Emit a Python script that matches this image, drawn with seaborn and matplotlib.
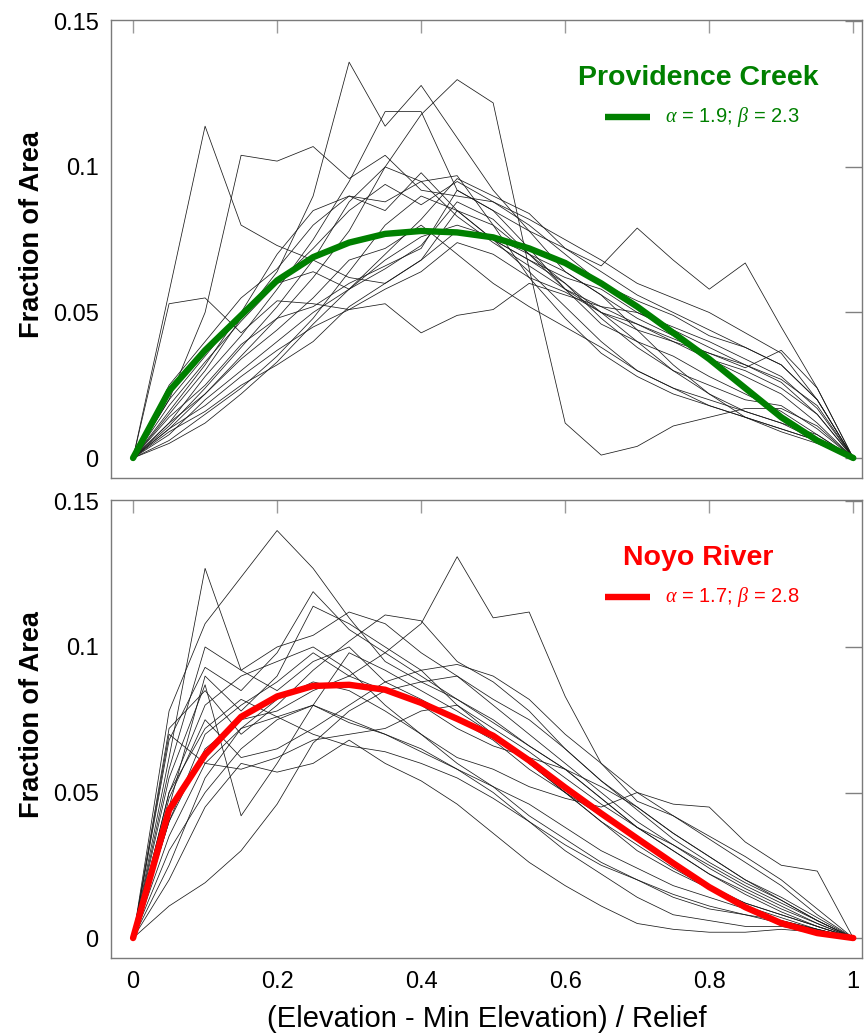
import numpy as np
import pandas as pd
import matplotlib
matplotlib.use("Agg")
import matplotlib.pyplot as plt
import seaborn as sns

# ---------------- data ----------------
x_grid = [0.00, 0.05, 0.10, 0.15, 0.20, 0.25, 0.30, 0.35, 0.40, 0.45, 0.50,
          0.55, 0.60, 0.65, 0.70, 0.75, 0.80, 0.85, 0.90, 0.95, 1.00]

providence_fit = [0, .023, .037, .049, .061, .069, .074, .077, .078, .0775, .0758,
                  .072, .067, .060, .052, .043, .034, .024, .014, .006, 0]
noyo_fit = [0, .044, .063, .076, .083, .0866, .087, .0853, .0808, .0753, .0695,
            .061, .0517, .0428, .0342, .0257, .0175, .0106, .0051, .0017, 0]

providence_basins = [
    [0, .057, .114, .080, .073, .068, .062, .060, .068, .085, .080, .070, .058, .052, .046, .040, .034, .030, .024, .015, 0],
    [0, .053, .055, .043, .054, .053, .051, .058, .064, .074, .070, .062, .057, .050, .046, .041, .036, .031, .037, .024, 0],
    [0, .020, .050, .104, .102, .107, .096, .104, .092, .090, .088, .080, .070, .060, .054, .049, .042, .038, .032, .020, 0],
    [0, .015, .030, .048, .064, .090, .136, .114, .128, .110, .092, .078, .064, .056, .048, .042, .034, .028, .022, .012, 0],
    [0, .010, .022, .035, .048, .062, .078, .100, .118, .130, .122, .065, .012, .001, .004, .011, .014, .017, .017, .011, 0],
    [0, .012, .028, .042, .058, .075, .095, .119, .119, .092, .085, .078, .072, .066, .079, .068, .058, .067, .045, .024, 0],
    [0, .025, .040, .055, .065, .080, .090, .085, .098, .085, .075, .068, .062, .058, .050, .044, .038, .032, .027, .018, 0],
    [0, .018, .033, .047, .060, .072, .085, .094, .087, .095, .088, .082, .075, .068, .060, .055, .050, .043, .036, .020, 0],
    [0, .008, .020, .030, .040, .050, .058, .070, .082, .096, .090, .084, .072, .064, .056, .050, .044, .038, .032, .020, 0],
    [0, .014, .025, .039, .048, .052, .060, .066, .072, .092, .085, .072, .058, .046, .040, .035, .028, .022, .016, .008, 0],
    [0, .010, .018, .028, .037, .045, .051, .053, .043, .049, .051, .060, .056, .052, .050, .045, .040, .034, .028, .017, 0],
    [0, .006, .015, .024, .035, .048, .064, .080, .090, .085, .075, .064, .052, .040, .030, .024, .018, .014, .010, .006, 0],
    [0, .012, .022, .034, .044, .055, .068, .072, .080, .070, .060, .052, .045, .038, .030, .024, .020, .016, .012, .008, 0],
    [0, .016, .032, .050, .060, .064, .058, .065, .073, .088, .082, .070, .060, .050, .040, .030, .022, .016, .012, .006, 0],
    [0, .009, .016, .025, .032, .040, .052, .060, .068, .078, .075, .068, .060, .048, .038, .030, .025, .020, .018, .010, 0],
    [0, .020, .035, .050, .070, .085, .090, .088, .095, .097, .080, .062, .048, .036, .028, .022, .018, .014, .010, .006, 0],
    [0, .011, .024, .038, .052, .068, .088, .100, .095, .083, .074, .066, .058, .050, .044, .040, .036, .032, .026, .015, 0],
    [0, .005, .012, .022, .033, .046, .058, .068, .076, .080, .076, .070, .064, .056, .044, .032, .022, .014, .009, .005, 0],
]

noyo_basins = [
    [0, .078, .108, .124, .140, .127, .110, .095, .088, .082, .075, .066, .058, .048, .038, .030, .022, .015, .009, .004, 0],
    [0, .062, .127, .092, .085, .095, .100, .088, .082, .075, .068, .058, .050, .040, .032, .024, .017, .011, .007, .003, 0],
    [0, .055, .087, .042, .060, .080, .098, .092, .085, .078, .070, .060, .050, .042, .034, .026, .018, .012, .008, .004, 0],
    [0, .040, .065, .075, .078, .085, .090, .098, .108, .131, .110, .112, .083, .060, .047, .042, .035, .028, .020, .010, 0],
    [0, .011, .019, .030, .046, .067, .078, .085, .088, .090, .082, .075, .065, .054, .045, .036, .028, .020, .013, .006, 0],
    [0, .050, .080, .090, .095, .100, .092, .080, .070, .062, .058, .052, .048, .045, .050, .046, .045, .033, .025, .023, 0],
    [0, .068, .093, .085, .098, .119, .106, .098, .090, .082, .074, .066, .058, .048, .038, .030, .022, .016, .010, .005, 0],
    [0, .045, .090, .078, .090, .114, .108, .100, .092, .080, .070, .060, .050, .040, .030, .023, .017, .012, .008, .004, 0],
    [0, .072, .085, .070, .080, .092, .102, .111, .109, .095, .088, .078, .065, .054, .044, .034, .026, .019, .013, .006, 0],
    [0, .070, .060, .072, .076, .080, .075, .070, .064, .058, .052, .046, .038, .030, .024, .018, .014, .010, .006, .003, 0],
    [0, .048, .075, .062, .065, .072, .080, .088, .092, .094, .090, .082, .070, .060, .050, .042, .034, .026, .018, .008, 0],
    [0, .030, .050, .065, .075, .080, .074, .070, .065, .058, .050, .040, .030, .022, .014, .008, .006, .004, .004, .002, 0],
    [0, .025, .055, .072, .082, .088, .085, .078, .070, .060, .052, .042, .034, .026, .020, .014, .010, .008, .006, .003, 0],
    [0, .035, .060, .058, .062, .068, .070, .072, .078, .080, .072, .064, .055, .046, .038, .032, .025, .018, .012, .006, 0],
    [0, .020, .045, .060, .057, .060, .068, .060, .054, .046, .036, .026, .018, .011, .005, .003, .002, .002, .003, .002, 0],
    [0, .040, .070, .080, .088, .098, .090, .085, .080, .072, .066, .062, .058, .052, .045, .036, .028, .020, .014, .007, 0],
    [0, .058, .100, .092, .100, .104, .112, .108, .098, .090, .080, .070, .060, .050, .040, .032, .024, .017, .011, .005, 0],
    [0, .050, .072, .082, .076, .070, .066, .064, .060, .055, .048, .040, .032, .025, .020, .015, .011, .008, .005, .003, 0],
]

panel_names = ["Providence Creek", "Noyo River"]
fit_labels = [r"$\alpha$ = 1.9; $\beta$ = 2.3", r"$\alpha$ = 1.7; $\beta$ = 2.8"]
panel_colors = ["#008000", "#FF0000"]
x_ticks = [0, 0.2, 0.4, 0.6, 0.8, 1]
x_ticklabels = ["0", "0.2", "0.4", "0.6", "0.8", "1"]
y_ticks = [0, 0.05, 0.1, 0.15]
y_ticklabels = ["0", "0.05", "0.1", "0.15"]

# ---------------- style ----------------
sns.set_theme(style="white")
plt.rcParams["font.family"] = ["Liberation Sans", "DejaVu Sans"]
plt.rcParams["text.color"] = "black"
plt.rcParams["axes.labelcolor"] = "black"
plt.rcParams["xtick.color"] = "black"
plt.rcParams["ytick.color"] = "black"
plt.rcParams["mathtext.fontset"] = "custom"
plt.rcParams["mathtext.rm"] = "Liberation Sans"
plt.rcParams["mathtext.it"] = "Liberation Serif:italic"


def long_df(basins):
    rows = []
    for i, ys in enumerate(basins):
        for xv, yv in zip(x_grid, ys):
            rows.append((i, xv, yv))
    return pd.DataFrame(rows, columns=["basin", "x", "y"])


fig = plt.figure(figsize=(8.64, 10.33), dpi=100)
ax_top = fig.add_axes([0.1285, 0.5373, 0.8695, 0.4434])
ax_bot = fig.add_axes([0.1285, 0.0726, 0.8695, 0.4434])

for ax, basins, fit, name, lab, col in zip(
        [ax_top, ax_bot], [providence_basins, noyo_basins],
        [providence_fit, noyo_fit], panel_names, fit_labels, panel_colors):
    df = long_df(basins)
    sns.lineplot(data=df, x="x", y="y", units="basin", estimator=None,
                 color="#1a1a1a", lw=0.55, ax=ax, legend=False)
    fdf = pd.DataFrame({"x": x_grid, "y": fit})
    sns.lineplot(data=fdf, x="x", y="y", color=col, lw=4.6, ax=ax,
                 legend=False, solid_capstyle="round")

    ax.set_xlim(-0.0306, 1.0125)
    ax.set_ylim(-0.00686, 0.1505)
    ax.set_xticks(x_ticks)
    ax.set_yticks(y_ticks)
    ax.set_yticklabels(y_ticklabels, fontsize=17, color="black")
    ax.set_ylabel("Fraction of Area", fontsize=19.5, fontweight="bold",
                  color="black")
    ax.yaxis.set_label_coords(-0.088, 0.532)
    ax.set_xlabel("")
    ax.tick_params(axis="both", direction="in", top=True, right=True,
                   length=9, width=1, color="#9a9a9a", labelsize=17, pad=9,
                   labelcolor="black")
    ax.tick_params(axis="y", length=12, color="#808080")
    for sp in ax.spines.values():
        sp.set_color("#7a7a7a")
        sp.set_linewidth(1.0)

    # legend block
    ax.text(0.782, 0.873, name, transform=ax.transAxes, ha="center", va="center",
            fontsize=20.5, fontweight="bold", color=col)
    ax.plot([0.658, 0.718], [0.789, 0.789], transform=ax.transAxes,
            color=col, lw=4.6, solid_capstyle="butt")
    ax.text(0.737, 0.789, lab, transform=ax.transAxes, ha="left", va="center",
            fontsize=14.5, color=col)

ax_top.set_xticklabels([])
ax_bot.set_xticklabels(x_ticklabels, fontsize=17, color="black")
ax_bot.set_xlabel("(Elevation - Min Elevation) / Relief", fontsize=21,
                  labelpad=9, color="black")

fig.savefig("out.png", dpi=100)
